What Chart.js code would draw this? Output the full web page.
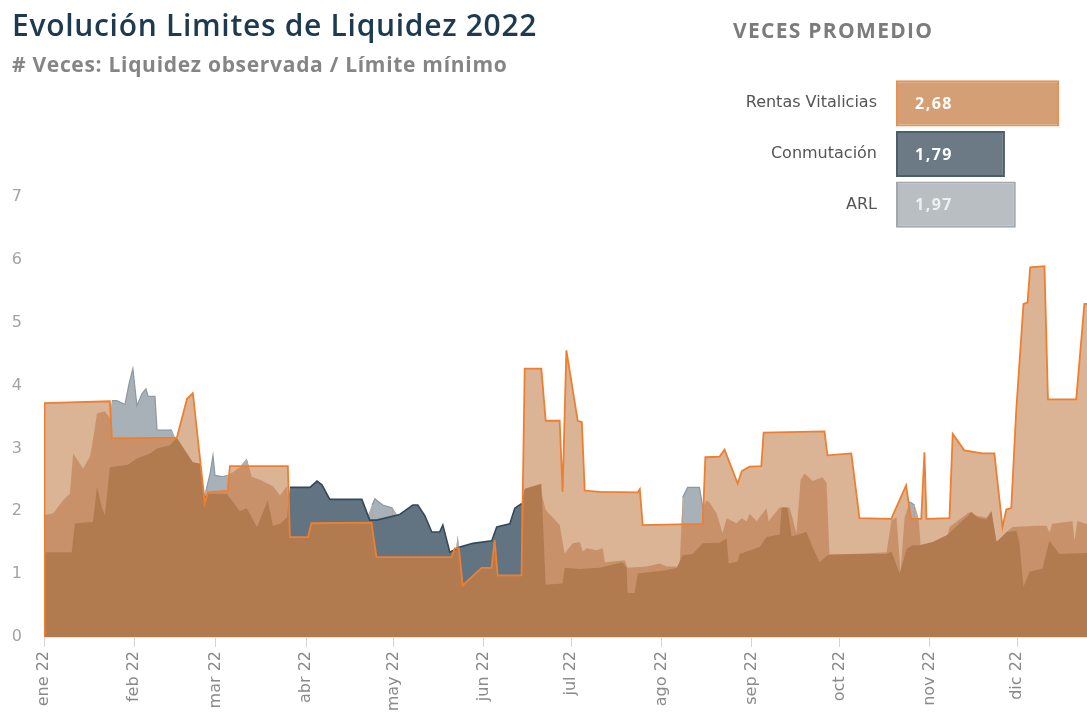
<!DOCTYPE html>
<html lang="es">
<head>
<meta charset="utf-8">
<title>Evolución Limites de Liquidez 2022</title>
<script src="https://cdn.jsdelivr.net/npm/chart.js@4.4.1/dist/chart.umd.min.js"></script>
<style>
  html, body { margin: 0; padding: 0; background: #fff; overflow: hidden; }
  #wrap { position: relative; width: 1087px; height: 713px; }
  #mainBox { position: absolute; left: 0; top: 0; width: 1087px; height: 713px; }
  #avgChart { position: absolute; left: 700px; top: 72px; }
  .title { position: absolute; left: 12px; top: 10px; margin: 0; font: 600 30px/30px "Open Sans", sans-serif; letter-spacing: 0.7px; color: #1d3a50; white-space: nowrap; }
  .subtitle { position: absolute; left: 12px; top: 54px; margin: 0; font: 700 21px/21px "Open Sans", sans-serif; letter-spacing: 0.7px; color: #858585; white-space: nowrap; }
  .avgTitle { position: absolute; left: 733px; top: 20px; margin: 0; font: 700 21px/21px "Open Sans", sans-serif; letter-spacing: 1.3px; color: #7c7c7c; white-space: nowrap; }
</style>
</head>
<body>
<div id="wrap">
  <div id="mainBox"><canvas id="mainChart"></canvas></div>
  <h1 class="title">Evolución Limites de Liquidez 2022</h1>
  <div class="subtitle"># Veces: Liquidez observada / Límite mínimo</div>
  <div class="avgTitle">VECES PROMEDIO</div>
  <canvas id="avgChart" width="387" height="165"></canvas>
</div>
<script>
// x axis = day of year 2022 (0 = 1 ene)
const monthDays = [0, 31, 59, 90, 120, 151, 181, 212, 243, 273, 304, 334];
const monthLabels = ['ene 22', 'feb 22', 'mar 22', 'abr 22', 'may 22', 'jun 22',
  'jul 22', 'ago 22', 'sep 22', 'oct 22', 'nov 22', 'dic 22'];

// Rentas Vitalicias
const rentasDays = [0, 0.2, 22.6, 23.3, 45.6, 49.1, 51.1, 55.2, 56.3, 63.1, 63.8, 83.7, 84.4, 90.6, 91.8,
  112.4, 114.1, 139.9, 141.0, 142.4, 143.7, 150.2, 153.6, 154.7, 155.7, 163.9, 165.0, 170.7, 172.2, 177.0,
  178.0, 179.3, 183.2, 184.6, 185.6, 190.7, 203.8, 204.5, 205.5, 226.1, 227.0, 231.9, 233.6, 238.1, 239.5,
  242.2, 246.2, 247.0, 267.9, 268.9, 277.1, 279.9, 290.8, 295.9, 297.6, 301.1, 302.2, 302.9, 310.8, 311.9,
  315.9, 322.1, 326.2, 329.0, 330.3, 332.0, 333.7, 336.2, 337.6, 338.5, 343.4, 344.6, 354.3, 357.1, 360];
const rentasValues = [0, 3.72, 3.75, 3.16, 3.17, 3.79, 3.88, 2.13, 2.3, 2.33, 2.72, 2.72, 1.59, 1.59, 1.81,
  1.82, 1.27, 1.27, 1.41, 1.41, 0.82, 1.1, 1.1, 1.54, 0.98, 0.98, 4.27, 4.27, 3.44, 3.44,
  2.31, 4.56, 3.44, 3.42, 2.33, 2.31, 2.3, 2.35, 1.78, 1.8, 2.86, 2.87, 2.98, 2.44, 2.64,
  2.71, 2.72, 3.25, 3.27, 2.89, 2.92, 1.89, 1.88, 2.41, 1.88, 1.88, 2.94, 1.88, 1.89, 3.23,
  2.97, 2.92, 2.92, 1.75, 2.03, 2.05, 3.6, 5.3, 5.32, 5.88, 5.9, 3.78, 3.78, 5.3, 5.3];

// Conmutación
const conmDays = [0, 0.2, 9.5, 10.6, 16.8, 18.2, 19.9, 20.9, 22.6, 28.8, 31.9, 36.4, 38.8, 43.2, 45.6,
  49.1, 51.1, 53.5, 55.2, 56.3, 62.8, 67.2, 69.6, 73.1, 76.8, 78.6, 81.0, 83.4, 84.4, 91.3,
  93.7, 95.4, 98.1, 109.1, 111.8, 114.2, 122.1, 126.6, 128.3, 130.7, 133.1, 135.8, 136.9, 139.3, 142.7,
  147.2, 153.7, 155.4, 159.9, 161.6, 163.9, 165.0, 170.7, 172.2, 178.0, 178.7, 183.9, 190.7, 198.6, 200.0,
  200.3, 202.7, 203.8, 213.7, 217.2, 219.2, 222.6, 226.1, 231.9, 234.3, 235.0, 238.1, 238.8, 245.6, 248.0,
  252.5, 253.2, 255.2, 256.6, 261.7, 263.8, 266.2, 268.9, 277.5, 289.2, 290.9, 293.7, 296.1, 298.1, 300.5,
  305.0, 309.8, 311.8, 318.4, 320.4, 323.5, 325.2, 326.9, 330.4, 333.8, 334.8, 336.2, 338.3, 342.7, 345.1,
  348.5, 360];
const conmValues = [0, 1.35, 1.35, 1.81, 1.83, 2.39, 2.05, 1.94, 2.7, 2.74, 2.84, 2.92, 3.0, 3.05, 3.17,
  2.92, 2.78, 2.76, 2.23, 2.28, 2.28, 2.0, 2.05, 1.75, 2.17, 1.77, 1.8, 1.9, 2.38, 2.38,
  2.48, 2.42, 2.19, 2.19, 1.86, 1.86, 1.95, 2.1, 2.1, 1.93, 1.67, 1.67, 1.78, 1.35, 1.43,
  1.49, 1.53, 1.75, 1.8, 2.05, 2.12, 2.36, 2.44, 0.83, 0.85, 1.1, 1.08, 1.1, 1.19, 1.1,
  0.7, 0.7, 1.01, 1.06, 1.1, 1.3, 1.32, 1.49, 1.5, 1.57, 1.17, 1.2, 1.32, 1.43, 1.59,
  1.63, 2.06, 2.06, 1.6, 1.67, 1.43, 1.19, 1.3, 1.32, 1.32, 1.36, 1.01, 1.4, 1.46, 1.46,
  1.51, 1.62, 1.7, 1.99, 1.9, 1.87, 2.0, 1.51, 1.67, 1.69, 1.5, 0.8, 1.04, 1.09, 1.53,
  1.32, 1.34];

// ARL
const arlDays = [0, 0.2, 3.2, 6.5, 8.9, 10.0, 13.4, 15.8, 16.8, 18.2, 20.9, 22.6, 23.3, 25.0, 27.8,
  29.2, 30.5, 31.9, 33.6, 35.0, 35.7, 38.1, 38.8, 43.9, 44.9, 48.4, 52.1, 54.5, 55.5, 57.0,
  58.0, 58.7, 61.1, 62.8, 64.8, 67.2, 69.6, 71.3, 74.1, 78.6, 81.0, 83.4, 84.4, 111.0, 112.6,
  113.6, 114.6, 116.3, 119.7, 121.8, 134.0, 137.0, 141.2, 142.0, 142.8, 163.9, 165.0, 170.7, 172.2, 177.0,
  178.7, 181.5, 183.9, 184.9, 186.3, 189.7, 191.8, 192.5, 195.2, 199.3, 200.3, 206.9, 211.3, 213.7, 218.2,
  219.2, 220.9, 225.0, 226.1, 227.4, 228.5, 230.9, 232.9, 234.3, 237.7, 239.5, 241.2, 242.2, 244.6, 248.0,
  248.7, 252.5, 255.9, 258.3, 259.7, 261.1, 263.8, 267.2, 268.6, 269.6, 277.5, 289.2, 290.9, 292.6, 294.0,
  295.4, 297.1, 298.8, 300.2, 300.9, 309.8, 310.8, 317.7, 320.1, 323.5, 325.2, 326.9, 328.6, 330.4, 332.4,
  340.7, 344.1, 345.1, 346.1, 353.0, 353.7, 354.7, 360];
const arlValues = [0, 1.94, 1.97, 2.17, 2.28, 2.92, 2.68, 2.87, 3.13, 3.56, 3.59, 3.49, 3.76, 3.76, 3.7,
  4.03, 4.27, 3.68, 3.87, 3.95, 3.83, 3.83, 3.29, 3.29, 3.18, 2.78, 2.75, 2.2, 2.31, 2.6,
  2.89, 2.57, 2.55, 2.57, 2.62, 2.7, 2.84, 2.55, 2.5, 2.4, 2.25, 2.4, 1.9, 1.9, 2.1,
  2.2, 2.16, 2.1, 2.05, 1.9, 1.6, 1.3, 1.3, 1.62, 1.3, 1.4, 2.3, 2.3, 2.02, 1.78,
  1.33, 1.49, 1.51, 1.36, 1.41, 1.38, 1.41, 1.19, 1.2, 1.22, 1.1, 1.12, 1.17, 1.12, 1.12,
  2.22, 2.38, 2.38, 2.06, 2.17, 2.14, 1.96, 1.65, 1.89, 1.81, 1.89, 1.84, 1.96, 1.84, 2.05,
  1.84, 2.06, 2.06, 1.65, 2.5, 2.6, 2.48, 2.54, 2.45, 1.32, 1.32, 1.35, 1.86, 1.9, 1.04,
  1.9, 2.15, 2.1, 1.88, 1.46, 1.53, 1.75, 1.99, 1.93, 1.9, 2.0, 1.53, 1.5, 1.67, 1.75,
  1.77, 1.77, 1.66, 1.8, 1.84, 1.53, 1.84, 1.77];

// Veces promedio
const avgLabels = ['Rentas Vitalicias', 'Conmutación', 'ARL'];
const avgValues = [2.68, 1.79, 1.97];

const colors = {
  rentasLine: '#ef7f30',
  rentasFill: '#dab495',
  arlUnder: '#c8916a',
  conmUnder: '#b27b4f',
  arl: '#a8b0b8',
  arlLine: '#8d99a3',
  conm: '#627482',
  conmLine: '#344a5a'
};

function points(days, values) {
  return days.map((d, i) => ({ x: d, y: values[i] }));
}

function valueAt(days, values, d) {
  for (let i = 1; i < days.length; i++) {
    if (d <= days[i]) {
      const t = (d - days[i - 1]) / (days[i] - days[i - 1] || 1);
      return values[i - 1] + t * (values[i] - values[i - 1]);
    }
  }
  return values[values.length - 1];
}

// outline only where the series sticks out above the layers in front of it
function outline(color, isVisible) {
  return ctx => (isVisible(ctx.p0.parsed) && isVisible(ctx.p1.parsed)) ? color : 'rgba(0,0,0,0)';
}
const conmVisible = p => p.y > valueAt(rentasDays, rentasValues, p.x) + 0.02;
const arlVisible = p => conmVisible(p) && p.y > valueAt(conmDays, conmValues, p.x) + 0.02;

const common = { pointRadius: 0, pointHoverRadius: 0, tension: 0 };

const mainChart = new Chart(document.getElementById('mainChart'), {
  type: 'line',
  data: {
    datasets: [
      { ...common, label: 'Rentas Vitalicias', data: points(rentasDays, rentasValues),
        borderColor: colors.rentasLine, borderWidth: 1.8, fill: false, order: 1 },
      { ...common, label: 'Conmutación', data: points(conmDays, conmValues),
        borderColor: colors.conmLine, borderWidth: 1.6, order: 2,
        fill: { target: 0, above: colors.conm, below: 'rgba(0,0,0,0)' },
        segment: { borderColor: outline(colors.conmLine, conmVisible) } },
      { ...common, label: 'Conmutación base', data: points(conmDays, conmValues),
        borderWidth: 0, backgroundColor: colors.conmUnder, fill: 'origin', order: 3 },
      { ...common, label: 'ARL', data: points(arlDays, arlValues),
        borderColor: colors.arlLine, borderWidth: 1.2, order: 4,
        fill: { target: 0, above: colors.arl, below: 'rgba(0,0,0,0)' },
        segment: { borderColor: outline(colors.arlLine, arlVisible) } },
      { ...common, label: 'ARL base', data: points(arlDays, arlValues),
        borderWidth: 0, backgroundColor: colors.arlUnder, fill: 'origin', order: 5 },
      { ...common, label: 'Rentas base', data: points(rentasDays, rentasValues),
        borderWidth: 0, backgroundColor: colors.rentasFill, fill: 'origin', order: 6 }
    ]
  },
  options: {
    responsive: true,
    maintainAspectRatio: false,
    animation: false,
    layout: { padding: { top: 197, left: 0, right: 0, bottom: 0 } },
    plugins: { legend: { display: false }, tooltip: { enabled: false } },
    scales: {
      x: {
        type: 'linear',
        min: 0,
        max: 358,
        afterBuildTicks: scale => { scale.ticks = monthDays.map(v => ({ value: v })); },
        afterFit: scale => { scale.height = 76; },
        ticks: {
          autoSkip: false,
          minRotation: 90,
          maxRotation: 90,
          padding: 4,
          color: '#8a8a8a',
          font: { family: 'DejaVu Sans', size: 16 },
          callback: v => monthLabels[monthDays.indexOf(v)]
        },
        grid: { drawOnChartArea: false, drawTicks: true, tickLength: 10, color: '#d4d4d4' },
        border: { display: true, color: '#e2e2e2' }
      },
      y: {
        min: 0,
        max: 7,
        afterFit: scale => { scale.width = 44; },
        ticks: { stepSize: 1, color: '#a3a3a3', padding: 22, font: { family: 'DejaVu Sans', size: 16 } },
        grid: { display: false, drawTicks: false },
        border: { display: false }
      }
    }
  }
});

const valueLabels = {
  id: 'valueLabels',
  afterDatasetsDraw(chart) {
    const { ctx } = chart;
    const meta = chart.getDatasetMeta(0);
    const textColors = ['#ffffff', '#ffffff', '#eef0f2'];
    ctx.save();
    ctx.font = 'bold 16px "Open Sans"';
    ctx.letterSpacing = '1.5px';
    ctx.textBaseline = 'middle';
    ctx.textAlign = 'left';
    meta.data.forEach((bar, i) => {
      ctx.fillStyle = textColors[i];
      ctx.fillText(avgValues[i].toFixed(2).replace('.', ','), bar.base + 19, bar.y + 1);
    });
    ctx.restore();
  }
};

const avgChart = new Chart(document.getElementById('avgChart'), {
  type: 'bar',
  data: {
    labels: avgLabels,
    datasets: [{
      data: avgValues,
      backgroundColor: ['#d49f75', '#6b7a84', '#b8bec1'],
      borderColor: ['#ea9050', '#4e5e69', '#a0a8ad'],
      borderWidth: 2,
      borderSkipped: false,
      barPercentage: 0.91,
      categoryPercentage: 1
    }]
  },
  options: {
    indexAxis: 'y',
    responsive: false,
    animation: false,
    layout: { padding: { top: 6, bottom: 7, left: 0, right: 0 } },
    plugins: { legend: { display: false }, tooltip: { enabled: false } },
    scales: {
      x: { min: 0, max: 3.14, display: false },
      y: {
        afterFit: scale => { scale.width = 196; scale.paddingTop = 0; scale.paddingBottom = 0; },
        grid: { display: false },
        border: { display: false },
        ticks: { color: '#555555', padding: 11, font: { family: 'DejaVu Sans', size: 16 } }
      }
    }
  },
  plugins: [valueLabels]
});
</script>
</body>
</html>
